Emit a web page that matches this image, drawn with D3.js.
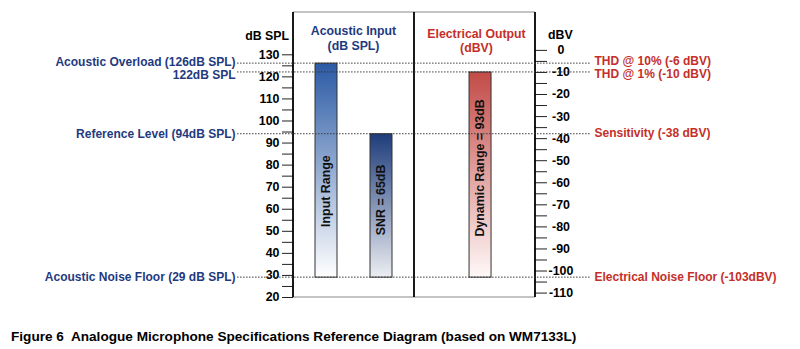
<!DOCTYPE html>
<html>
<head>
<meta charset="utf-8">
<script src="https://cdn.jsdelivr.net/npm/d3@7/dist/d3.min.js"></script>
<style>
  html, body { margin: 0; padding: 0; background: #fff; }
  svg { display: block; font-family: "Liberation Sans", Arial, Helvetica, sans-serif; }
</style>
</head>
<body>
<svg id="chart" width="800" height="349"></svg>
<script>
// Axis ticks
const splTicks = d3.range(20, 131, 5);      // dB SPL, left axis
const dbvTicks = d3.range(-110, 1, 5);      // dBV, right axis
const dbvOffset = 132;                      // dB SPL = dBV + 132 (sensitivity -38 dBV at 94 dB SPL)

// Range bars
const barNames   = ["Input Range", "SNR = 65dB", "Dynamic Range = 93dB"];
const barAxis    = ["spl", "spl", "dbv"];
const barTops    = [126, 94, -10];
const barBottoms = [29, 29, -103];

// Reference levels (in dB SPL) with the labels on each side
const levelSPL    = [126, 122, 94, 29];
const levelDBV    = [-6, -10, -38, -103];
const leftLabels  = ["Acoustic Overload (126dB SPL)", "122dB SPL", "Reference Level (94dB SPL)", "Acoustic Noise Floor (29 dB SPL)"];
const rightLabels = ["THD @ 10% (-6 dBV)", "THD @ 1% (-10 dBV)", "Sensitivity (-38 dBV)", "Electrical Noise Floor (-103dBV)"];

const caption = "Figure 6  Analogue Microphone Specifications Reference Diagram (based on WM7133L)";

const NAVY = "#1f3a80", RED = "#c42f2a";
const svg = d3.select("#chart");

// Layout
const box = { left: 293, mid: 414, right: 535, top: 12, bottom: 297 };
const ySpl = d3.scaleLinear().domain([20, 130]).range([297, 54.3]);
const yDbv = d3.scaleLinear().domain([20 - dbvOffset, 130 - dbvOffset]).range(ySpl.range());

const xLeft = d3.scaleBand().domain(barNames.slice(0, 2)).range([box.left, box.mid])
  .paddingInner(0.6).paddingOuter(0.4);
const xRight = d3.scaleBand().domain(barNames.slice(2)).range([box.mid, box.right])
  .paddingInner(0.6).paddingOuter(0.9).align(0.556);
const xBar = n => (xLeft.domain().includes(n) ? xLeft(n) : xRight(n));
const bw = xLeft.bandwidth();

// Gradients
const defs = svg.append("defs");
const grads = [["g0", "#2b5aa5", "#ffffff"], ["g1", "#1d3c7a", "#eceef2"], ["g2", "#c24b47", "#fff8f8"]];
grads.forEach(([id, c0, c1]) => {
  const g = defs.append("linearGradient").attr("id", id).attr("x1", 0).attr("y1", 0).attr("x2", 0).attr("y2", 1);
  g.append("stop").attr("offset", "0%").attr("stop-color", c0);
  g.append("stop").attr("offset", "100%").attr("stop-color", c1);
});

// Frame: thin top/bottom rules, heavy verticals
svg.append("line").attr("x1", box.left).attr("x2", box.right).attr("y1", box.top).attr("y2", box.top)
  .attr("stroke", "#888").attr("stroke-width", 1);
svg.append("line").attr("x1", box.left).attr("x2", box.right).attr("y1", box.bottom).attr("y2", box.bottom)
  .attr("stroke", "#888").attr("stroke-width", 1);

// Left axis
const gL = svg.append("g").attr("transform", `translate(${box.left},0)`)
  .call(d3.axisLeft(ySpl).tickValues(splTicks).tickSize(11).tickPadding(2.5)
    .tickFormat(d => (d % 10 === 0 ? String(d) : "")));
gL.select(".domain").remove();
gL.selectAll(".tick line").attr("stroke", "#222");
gL.selectAll(".tick text").attr("fill", "#000").attr("font-size", 12.4).attr("font-weight", "bold")
  .attr("font-family", null);

// Right axis
const gR = svg.append("g").attr("transform", `translate(${box.right},0)`)
  .call(d3.axisRight(yDbv).tickValues(dbvTicks).tickSize(12)
    .tickFormat(d => (d % 10 === 0 ? String(d) : "")));
gR.select(".domain").remove();
gR.selectAll(".tick line").attr("stroke", "#222");
gR.selectAll(".tick text").attr("fill", "#000").attr("font-size", 12.4).attr("font-weight", "bold")
  .attr("font-family", null).attr("x", 26).attr("text-anchor", "middle");

// Verticals
[box.left, box.mid, box.right].forEach(x => {
  svg.append("line").attr("x1", x).attr("x2", x).attr("y1", box.top).attr("y2", box.bottom)
    .attr("stroke", "#000").attr("stroke-width", 1.8);
});

// Bars
const yOf = i => (barAxis[i] === "spl" ? ySpl : yDbv);
svg.append("g").selectAll("rect").data(barNames).join("rect")
  .attr("x", d => xBar(d))
  .attr("width", bw)
  .attr("y", (d, i) => yOf(i)(barTops[i]))
  .attr("height", (d, i) => yOf(i)(barBottoms[i]) - yOf(i)(barTops[i]))
  .attr("fill", (d, i) => `url(#g${i})`)
  .attr("stroke", "#333").attr("stroke-width", 1);

// Rotated bar captions (centre positions in each bar's own units)
const captionAt = [68, 64, -53.5];
svg.append("g").selectAll("text").data(barNames).join("text")
  .attr("transform", (d, i) => `translate(${xBar(d) + bw / 2},${yOf(i)(captionAt[i])}) rotate(-90)`)
  .attr("text-anchor", "middle").attr("dy", "0.35em")
  .attr("font-size", 12.4).attr("font-weight", "bold").attr("fill", "#111")
  .text(d => d);

// Reference levels: dotted rule plus labels either side
const lineX0 = 237, lineX1 = 590;
const leftNudge = [-1.6, 3, 0, 0];
const rightNudge = [-2.4, 1.4, -0.8, 0];
svg.append("g").selectAll("line").data(levelSPL).join("line")
  .attr("x1", lineX0).attr("x2", lineX1)
  .attr("y1", d => ySpl(d)).attr("y2", d => ySpl(d))
  .attr("stroke", "#333").attr("stroke-width", 0.9).attr("stroke-dasharray", "1.6,1.4");
svg.append("g").selectAll("text").data(leftLabels).join("text")
  .attr("x", 235.5).attr("y", (d, i) => ySpl(levelSPL[i]) + leftNudge[i])
  .attr("dy", "0.35em").attr("text-anchor", "end")
  .attr("font-size", 12).attr("font-weight", "bold").attr("fill", NAVY)
  .text(d => d);
svg.append("g").selectAll("text").data(rightLabels).join("text")
  .attr("x", 594.5).attr("y", (d, i) => yDbv(levelDBV[i]) + rightNudge[i])
  .attr("dy", "0.35em").attr("text-anchor", "start")
  .attr("font-size", 12).attr("font-weight", "bold").attr("fill", RED)
  .text(d => d);

// Panel and axis titles
const title = (x, y, t, fill, anchor = "middle", size = 12.3) =>
  svg.append("text").attr("x", x).attr("y", y).attr("text-anchor", anchor)
    .attr("font-size", size).attr("font-weight", "bold").attr("fill", fill).text(t);
title((box.left + box.mid) / 2, 35, "Acoustic Input", NAVY);
title((box.left + box.mid) / 2, 49.5, "(dB SPL)", NAVY);
title((box.mid + box.right) / 2 + 2, 38, "Electrical Output", RED);
title((box.mid + box.right) / 2 + 2, 51.5, "(dBV)", RED);
title(289, 40, "dB SPL", "#000", "end");
title(548, 39, "dBV", "#000", "start");

// Figure caption
svg.append("text").attr("x", 11).attr("y", 341).attr("font-size", 13.6).attr("font-weight", "bold")
  .attr("fill", "#000").attr("xml:space", "preserve").style("white-space", "pre").text(caption);
</script>
</body>
</html>
